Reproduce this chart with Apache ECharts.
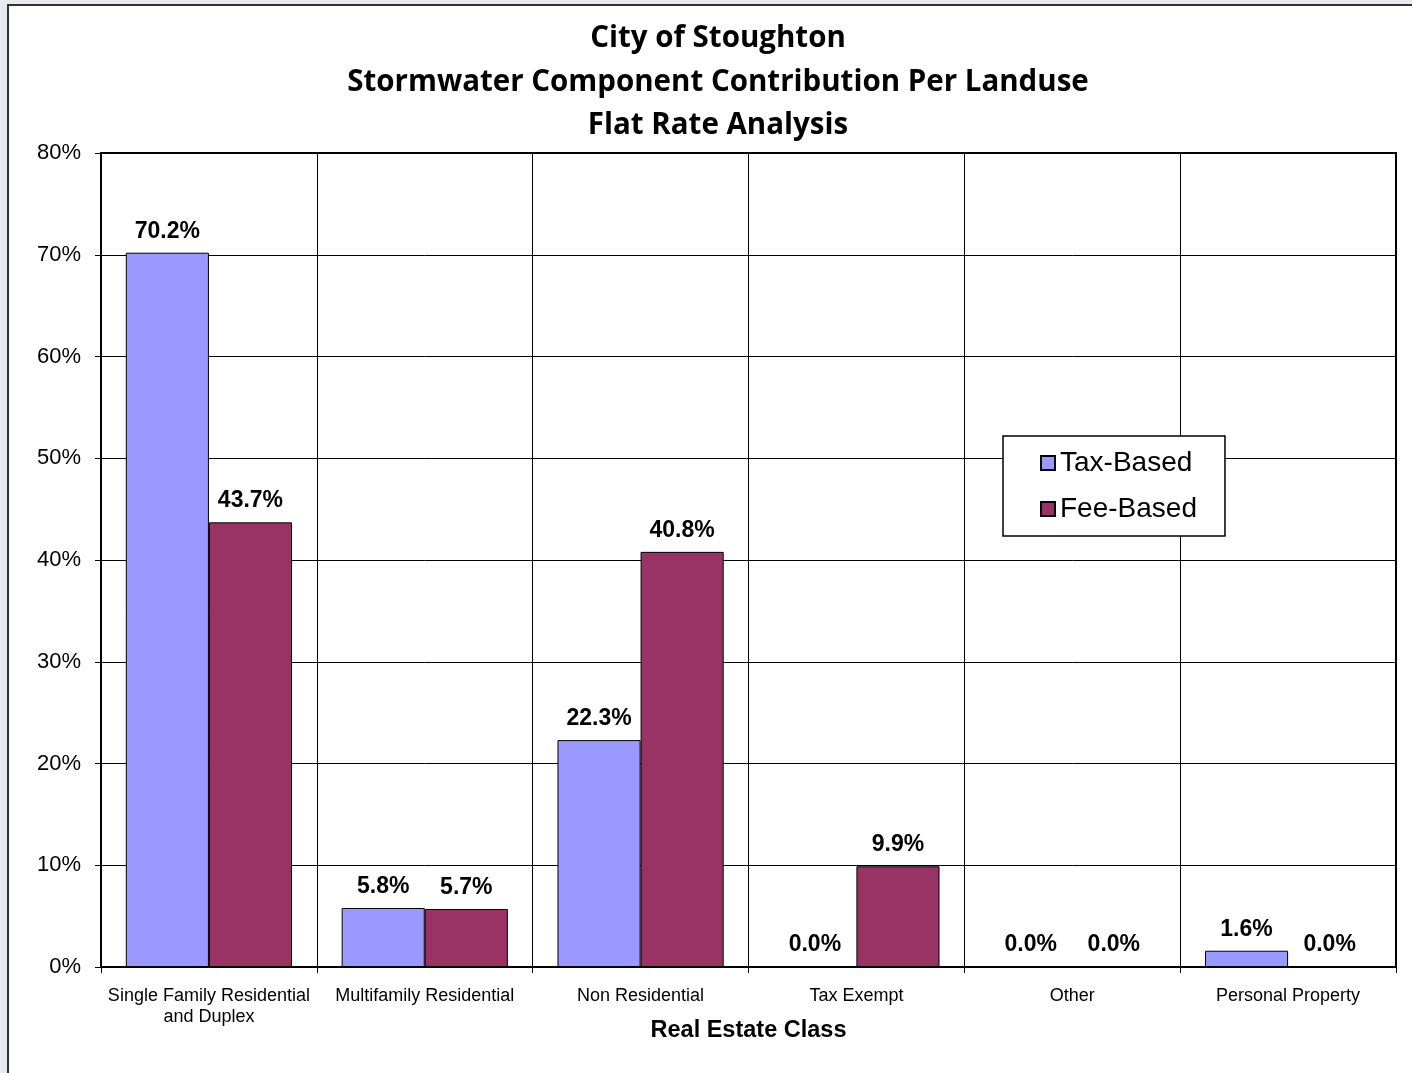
<!DOCTYPE html>
<html>
<head>
<meta charset="utf-8">
<title>City of Stoughton - Stormwater Flat Rate Analysis</title>
<script src="https://cdn.jsdelivr.net/npm/echarts@6/dist/echarts.min.js"></script>
<style>
    html, body { margin: 0; padding: 0; background: #e9e9f1; }
    #chart { width: 1412px; height: 1073px; }
</style>
</head>
<body>
<div id="chart"></div>
<script>
// Data
var categories = [
    'Single Family Residential\nand Duplex',
    'Multifamily Residential',
    'Non Residential',
    'Tax Exempt',
    'Other',
    'Personal Property'
];
var taxBased = [70.2, 5.8, 22.3, 0.0, 0.0, 1.6];
var feeBased = [43.7, 5.7, 40.8, 9.9, 0.0, 0.0];
var yTicks = { min: 0, max: 80, interval: 10 };

var chart = echarts.init(document.getElementById('chart'));

// shared bar label
var barLabel = {
    show: true,
    position: 'top',
    distance: 10,
    color: '#000',
    fontFamily: 'Arial, "Liberation Sans", sans-serif',
    fontWeight: 'bold',
    fontSize: 23,
    formatter: function (p) { return p.value.toFixed(1) + '%'; }
};

chart.setOption({
    animation: false,
    backgroundColor: 'transparent',

    // white chart frame
    graphic: [{
        type: 'rect',
        z: -10,
        shape: { x: 8, y: 5, width: 1430, height: 1090 },
        style: { fill: '#fff', stroke: '#333', lineWidth: 2 }
    }],

    title: {
        text: 'City of Stoughton\nStormwater Component Contribution Per Landuse\nFlat Rate Analysis',
        left: 713,
        top: 12,
        textAlign: 'center',
        textStyle: {
            fontFamily: '"Open Sans", Lato, sans-serif',
            fontWeight: 'bold',
            fontSize: 29.5,
            lineHeight: 43.5,
            color: '#000'
        }
    },

    legend: {
        orient: 'vertical',
        left: 1003,
        top: 436,
        padding: [13, 28, 13, 37],
        itemGap: 18,
        itemWidth: 14,
        itemHeight: 14,
        backgroundColor: '#fff',
        borderColor: '#000',
        borderWidth: 1.5,
        borderRadius: 0,
        icon: 'rect',
        textStyle: {
            fontFamily: 'Arial, "Liberation Sans", sans-serif',
            fontSize: 28,
            color: '#000'
        },
        data: ['Tax-Based', 'Fee-Based']
    },

    grid: {
        left: 101,
        right: 16,
        top: 153,
        bottom: 106,
        show: true,
        borderColor: '#000',
        borderWidth: 2,
        containLabel: false
    },

    xAxis: {
        type: 'category',
        data: categories,
        name: 'Real Estate Class',
        nameLocation: 'middle',
        nameGap: 52,
        nameMoveOverlap: false,
        nameTextStyle: {
            fontFamily: 'Arial, "Liberation Sans", sans-serif',
            fontWeight: 'bold',
            fontSize: 23.5,
            color: '#000'
        },
        axisLine: { lineStyle: { color: '#000', width: 2 } },
        axisTick: { show: true, length: 6, lineStyle: { color: '#000' } },
        axisLabel: {
            margin: 19,
            color: '#000',
            fontFamily: 'Arial, "Liberation Sans", sans-serif',
            fontSize: 18,
            lineHeight: 21,
            interval: 0
        },
        splitLine: { show: true, lineStyle: { color: '#000', width: 1 } }
    },

    yAxis: {
        type: 'value',
        min: yTicks.min,
        max: yTicks.max,
        interval: yTicks.interval,
        axisLine: { show: true, lineStyle: { color: '#000', width: 2 } },
        axisTick: { show: true, length: 6, lineStyle: { color: '#000' } },
        axisLabel: {
            margin: 20,
            color: '#000',
            fontFamily: 'Arial, "Liberation Sans", sans-serif',
            fontSize: 22,
            formatter: '{value}%'
        },
        splitLine: { show: true, lineStyle: { color: '#000', width: 1 } }
    },

    series: [
        {
            name: 'Tax-Based',
            type: 'bar',
            data: taxBased,
            barGap: '0%',
            barCategoryGap: '23%',
            itemStyle: { color: '#9999ff', borderColor: '#000', borderWidth: 1 },
            label: barLabel
        },
        {
            name: 'Fee-Based',
            type: 'bar',
            data: feeBased,
            itemStyle: { color: '#993366', borderColor: '#000', borderWidth: 1 },
            label: barLabel
        }
    ]
});

window.addEventListener('resize', function () { chart.resize(); });
</script>
</body>
</html>
